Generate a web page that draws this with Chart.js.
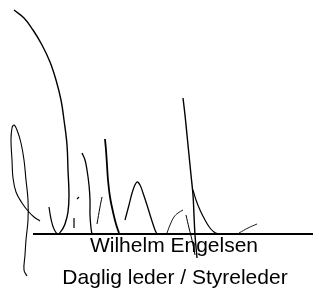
<!DOCTYPE html>
<html lang="no">
<head>
    <meta charset="UTF-8">
    <title>Signatur</title>
    <style>
        body {
            margin: 0;
            background: #ffffff;
        }
        #sig {
            display: block;
        }
    </style>
    <script src="https://cdn.jsdelivr.net/npm/chart.js"></script>
</head>
<body>
    <canvas id="sig" width="313" height="289"></canvas>

    <script>
        // signature strokes, as [x, y] points on a 313 x 289 grid (y grows downward)
        const bigArc = [[14,10],[24,18],[33,30],[42,45],[50,62],[56,80],[61,100],[64,120],[67,145],[68,170],[69,195],[68,212],[65,224],[62,230]];
        const uStroke = [[49,207],[51,219],[54,229],[58,234],[62,230]];
        const leftLoop = [[27,276],[24,270],[25,255],[26,240],[28,220],[28,200],[26,180],[24,160],[21,143],[17,130],[14,125],[12,128],[11,140],[12,160],[13,178],[16,192],[22,203],[28,211],[34,217],[40,221]];
        const iStroke = [[82,153],[85,160],[87,170],[89,185],[90,200],[90,215],[91,228],[92,234]];
        const dotA = [[77,199],[79,197]];
        const tickA = [[74,218],[74,228]];
        const heavyStroke = [[105,139],[106,150],[107,165],[108,180],[110,197],[113,212],[116,224],[119,233]];
        const thinStroke = [[102,197],[100,207],[97,224]];
        const hump = [[125,220],[129,205],[133,190],[137,182],[140,185],[143,193],[147,205],[151,218],[155,230],[157,234]];
        const tallStroke = [[183,98],[185,115],[187,135],[189,155],[191,175],[193,195],[194,215],[195,235],[197,258]];
        const innerStroke = [[186,215],[189,228],[192,240],[195,255]];
        const branch = [[193,190],[196,200],[200,210],[205,220],[210,228],[214,232],[218,234]];
        const smallArc = [[167,233],[170,225],[174,217],[178,213],[183,210]];
        const tail = [[239,233],[248,228],[257,224]];
        const baseline = [[33,234],[313,234]];

        const nameLines = ['Wilhelm Engelsen', 'Daglig leder / Styreleder'];

        function toPoints(arr) {
            return arr.map(p => ({ x: p[0], y: p[1] }));
        }

        function stroke(arr, width) {
            return {
                data: toPoints(arr),
                showLine: true,
                borderColor: '#000000',
                borderWidth: width,
                pointRadius: 0,
                tension: 0.4,
                fill: false
            };
        }

        // draws the printed name and title under the line
        const textPlugin = {
            id: 'nameText',
            afterDraw(chart) {
                const ctx = chart.ctx;
                const x = chart.scales.x;
                const y = chart.scales.y;
                ctx.save();
                ctx.fillStyle = '#000000';
                ctx.font = '21px "Liberation Sans", Arial, sans-serif';
                ctx.textAlign = 'center';
                ctx.textBaseline = 'alphabetic';
                ctx.fillText(nameLines[0], x.getPixelForValue(174), y.getPixelForValue(252));
                ctx.fillText(nameLines[1], x.getPixelForValue(175), y.getPixelForValue(284));
                ctx.restore();
            }
        };

        new Chart(document.getElementById('sig').getContext('2d'), {
            type: 'scatter',
            data: {
                datasets: [
                    stroke(bigArc, 1.4),
                    stroke(uStroke, 1.2),
                    stroke(leftLoop, 1.1),
                    stroke(iStroke, 1.3),
                    stroke(dotA, 1.2),
                    stroke(tickA, 1.2),
                    stroke(heavyStroke, 1.8),
                    stroke(thinStroke, 1),
                    stroke(hump, 1.3),
                    stroke(tallStroke, 1.4),
                    stroke(innerStroke, 1),
                    stroke(branch, 1.2),
                    stroke(smallArc, 0.9),
                    stroke(tail, 0.9),
                    stroke(baseline, 2)
                ]
            },
            options: {
                responsive: false,
                animation: false,
                layout: { padding: 0 },
                plugins: {
                    legend: { display: false },
                    tooltip: { enabled: false }
                },
                scales: {
                    x: { type: 'linear', min: 0, max: 313, display: false },
                    y: { type: 'linear', min: 0, max: 289, reverse: true, display: false }
                }
            },
            plugins: [textPlugin]
        });
    </script>
</body>
</html>
